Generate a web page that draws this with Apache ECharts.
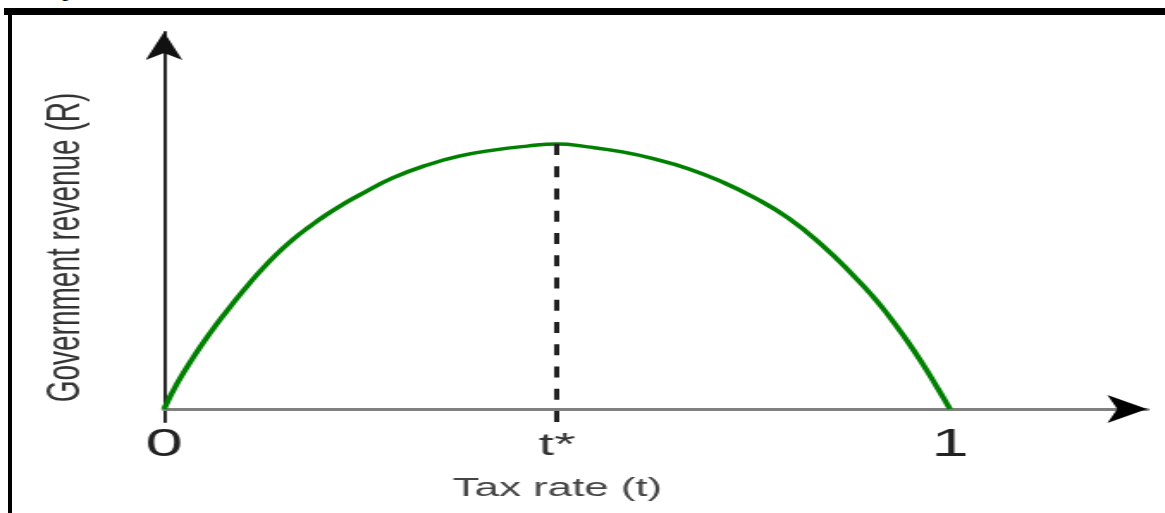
<!DOCTYPE html>
<html><head><meta charset="utf-8">
<script src="https://cdn.jsdelivr.net/npm/echarts@6/dist/echarts.min.js"></script>
<style>
html,body{margin:0;padding:0;background:#fff;width:1165px;height:513px;overflow:hidden;}
#chart{position:absolute;left:0;top:0;width:677px;height:513px;transform:scaleX(1.72083);transform-origin:0 0;}
#topline{position:absolute;left:4px;top:8px;width:1161px;height:7px;background:#000;}
#leftline{position:absolute;left:8px;top:8px;width:3.5px;height:505px;background:#000;}
#frag{position:absolute;left:62px;top:-25px;font:26px 'Liberation Serif';line-height:26px;color:#000;}
</style></head><body>
<div id="frag">p</div>
<div id="chart"></div>
<div id="topline"></div><div id="leftline"></div>
<script>
// Tax rate (t) and government revenue (R, relative to the maximum)
const TAX_RATE = [0, 0.017, 0.037, 0.059, 0.080, 0.101, 0.122, 0.144, 0.164, 0.186, 0.207, 0.228, 0.249,
  0.291, 0.335, 0.377, 0.419, 0.462, 0.5, 0.539, 0.583, 0.625, 0.667, 0.710, 0.752, 0.794, 0.837,
  0.879, 0.901, 0.921, 0.943, 0.964, 0.985, 1.0];
const REVENUE = [0, 0.098, 0.194, 0.288, 0.370, 0.447, 0.519, 0.586, 0.640, 0.690, 0.734, 0.773, 0.808,
  0.872, 0.921, 0.955, 0.977, 0.992, 1.0, 0.989, 0.970, 0.943, 0.907, 0.857, 0.796, 0.721, 0.619,
  0.498, 0.428, 0.356, 0.268, 0.176, 0.075, 0];
const TICK_VALUES = [0, 0.5, 1];
const TICK_TEXT = ['0', 't*', '1'];
const X_NAME = 'Tax rate (t)';
const Y_NAME = 'Government revenue (R)';

const X_MAX = 1.2506;
const Y_MAX = 1.4226;
const Y_MIN = -0.049;

let peakIdx = 0;
REVENUE.forEach((r, i) => { if (r > REVENUE[peakIdx]) peakIdx = i; });
const PEAK_T = TAX_RATE[peakIdx], PEAK_R = REVENUE[peakIdx];

const chart = echarts.init(document.getElementById('chart'), null, {renderer: 'canvas'});
chart.setOption({
  animation: false,
  backgroundColor: 'transparent',
  grid: {left: 95.3, right: 10.5, top: 32, bottom: 91},
  xAxis: {
    type: 'value', min: 0, max: X_MAX, interval: 0.5,
    axisLine: {show: true, onZero: true, lineStyle: {color: '#808080', width: 3}},
    axisTick: {show: false}, splitLine: {show: false},
    axisLabel: {
      margin: 4, fontFamily: 'Liberation Sans', fontSize: 39, color: '#222',
      formatter: v => {
        const i = TICK_VALUES.findIndex(t => Math.abs(t - v) < 1e-6);
        if (i < 0) return '';
        return TICK_TEXT[i] === 't*' ? '{s|t*}' : TICK_TEXT[i];
      },
      rich: {s: {fontFamily: 'Liberation Sans', fontSize: 32, color: '#333', padding: [4, 0, 0, 0]}}
    },
    name: X_NAME, nameLocation: 'middle', nameGap: 54,
    nameTextStyle: {fontFamily: 'Liberation Sans', fontSize: 25.5, color: '#444', padding: [0, 114, 0, 0]}
  },
  yAxis: {
    type: 'value', min: Y_MIN, max: Y_MAX,
    axisLine: {show: true, onZero: true, symbol: ['none', 'arrow'], symbolSize: [16, 28],
      lineStyle: {color: '#111', width: 1.8}},
    axisTick: {show: false}, axisLabel: {show: false}, splitLine: {show: false},
    name: Y_NAME, nameLocation: 'middle', nameRotate: 90, nameGap: 43,
    nameTextStyle: {fontFamily: 'Liberation Sans', fontSize: 28, color: '#333', padding: [0, 41, 0, 0]}
  },
  series: [{
    type: 'line',
    data: TAX_RATE.map((t, i) => [t, REVENUE[i]]),
    smooth: true, symbol: 'none', clip: false, z: 3,
    lineStyle: {color: '#008000', width: 3.5},
    markLine: {
      silent: true, symbol: ['none', 'none'], label: {show: false},
      lineStyle: {color: '#222', width: 3, type: [11, 11.25]},
      data: [[{coord: [PEAK_T, PEAK_R]}, {coord: [PEAK_T, Y_MIN]}]]
    },
    markPoint: {
      silent: true, symbol: 'arrow', symbolSize: [21, 23], symbolRotate: -90,
      itemStyle: {color: '#000'}, label: {show: false},
      data: [{coord: [X_MAX, 0]}]
    }
  }]
});
</script>
</body></html>
